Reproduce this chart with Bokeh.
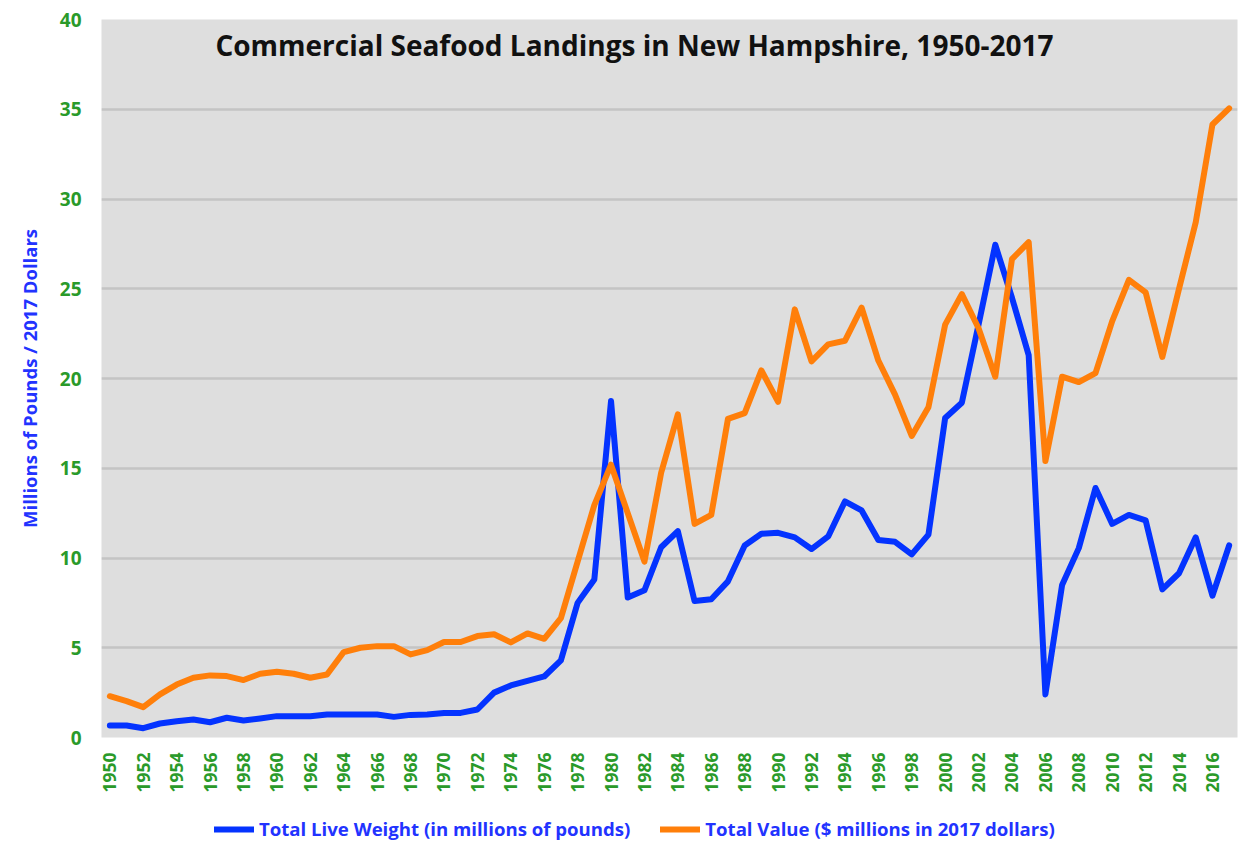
import math
from bokeh.plotting import figure
from bokeh.layouts import column
from bokeh.models import Range1d, FixedTicker, Label, Legend, LegendItem
from bokeh.embed import file_html
from bokeh.resources import INLINE

years = list(range(1950, 2018))

live_weight = [
    0.67, 0.67, 0.52, 0.78, 0.91, 1.00, 0.85, 1.10, 0.95, 1.06,
    1.19, 1.19, 1.19, 1.28, 1.28, 1.28, 1.28, 1.15, 1.26, 1.28,
    1.37, 1.37, 1.56, 2.50, 2.90, 3.16, 3.40, 4.30, 7.50, 8.80,
    18.75, 7.80, 8.20, 10.60, 11.50, 7.60, 7.70, 8.70, 10.70, 11.35,
    11.40, 11.15, 10.50, 11.20, 13.15, 12.65, 11.00, 10.90, 10.20, 11.30,
    17.80, 18.65, 23.00, 27.45, 24.50, 21.30, 2.40, 8.50, 10.55, 13.90,
    11.90, 12.40, 12.10, 8.25, 9.15, 11.15, 7.90, 10.70,
]

total_value = [
    2.30, 2.03, 1.69, 2.40, 2.95, 3.33, 3.46, 3.42, 3.20, 3.55,
    3.66, 3.55, 3.33, 3.51, 4.76, 5.00, 5.09, 5.09, 4.63, 4.87,
    5.32, 5.32, 5.65, 5.75, 5.30, 5.80, 5.50, 6.65, 9.80, 12.95,
    15.20, 12.50, 9.80, 14.75, 18.00, 11.90, 12.40, 17.75, 18.07, 20.45,
    18.70, 23.85, 20.95, 21.90, 22.10, 23.95, 21.00, 19.10, 16.80, 18.40,
    23.00, 24.70, 22.80, 20.10, 26.65, 27.60, 15.40, 20.10, 19.80, 20.30,
    23.20, 25.50, 24.80, 21.20, 25.00, 28.70, 34.15, 35.05,
]

x_ticks = list(range(1950, 2018, 2))
y_ticks = [0, 5, 10, 15, 20, 25, 30, 35, 40]

title_text = "Commercial Seafood Landings in New Hampshire, 1950-2017"
y_label = "Millions of Pounds / 2017 Dollars"
label_weight = "Total Live Weight (in millions of pounds)"
label_value = "Total Value ($ millions in 2017 dollars)"

BLUE = "#0433FF"
ORANGE = "#FF7F0A"
GREEN = "#2A9A2A"
LABEL_BLUE = "#2233FF"
FONT = "Open Sans"

p = figure(
    width=1240, height=807,
    x_range=Range1d(1949.5, 2017.5), y_range=Range1d(0, 40),
    output_backend="svg", toolbar_location=None,
    min_border_left=101, min_border_right=3, min_border_top=19, min_border_bottom=70,
)
p.background_fill_color = "#DEDEDE"
p.border_fill_color = "white"
p.outline_line_color = None

p.xgrid.grid_line_color = None
p.ygrid.grid_line_color = "#C4C4C4"
p.ygrid.grid_line_width = 2.5

# x axis
p.xaxis.ticker = FixedTicker(ticks=x_ticks)
p.xaxis.major_label_orientation = math.pi / 2
p.xaxis.major_label_text_color = GREEN
p.xaxis.major_label_text_font = FONT
p.xaxis.major_label_text_font_style = "bold"
p.xaxis.major_label_text_font_size = "17.5px"
p.xaxis.major_label_standoff = 15
p.xaxis.major_tick_out = 0
p.xaxis.major_tick_in = 0
p.xaxis.axis_line_color = None
p.xaxis.major_tick_line_color = None
p.xaxis.minor_tick_line_color = None

# y axis
p.yaxis.ticker = FixedTicker(ticks=y_ticks)
p.yaxis.major_label_text_color = GREEN
p.yaxis.major_label_text_font = FONT
p.yaxis.major_label_text_font_style = "bold"
p.yaxis.major_label_text_font_size = "19px"
p.yaxis.major_label_standoff = 20
p.yaxis.major_tick_out = 0
p.yaxis.major_tick_in = 0
p.yaxis.axis_line_color = None
p.yaxis.major_tick_line_color = None
p.yaxis.minor_tick_line_color = None
p.yaxis.axis_label = y_label
p.yaxis.axis_label_text_color = LABEL_BLUE
p.yaxis.axis_label_text_font = FONT
p.yaxis.axis_label_text_font_style = "bold"
p.yaxis.axis_label_text_font_size = "18.5px"
p.yaxis.axis_label_standoff = 15

p.line(years, live_weight, line_color=BLUE, line_width=6, line_join="round", line_cap="round")
p.line(years, total_value, line_color=ORANGE, line_width=6, line_join="round", line_cap="round")

title = Label(
    x=1981.4, y=38.6, text=title_text, text_align="center", text_baseline="middle",
    text_font=FONT, text_font_size="28px", text_font_style="bold", text_color="#111111",
)
p.add_layout(title)

# legend strip below the chart (series drawn out of view; only legend swatches show)
lg = figure(
    width=1240, height=42, x_range=Range1d(0, 1), y_range=Range1d(0, 1),
    output_backend="svg", toolbar_location=None, x_axis_type=None, y_axis_type=None,
    min_border_left=0, min_border_right=0, min_border_top=0, min_border_bottom=0,
)
lg.outline_line_color = None
lg.grid.visible = False
lg.background_fill_color = "white"
lg.border_fill_color = "white"
lw = lg.line(years, live_weight, line_color=BLUE, line_width=6, line_cap="round")
lv = lg.line(years, total_value, line_color=ORANGE, line_width=6, line_cap="round")

legend = Legend(
    items=[LegendItem(label=label_weight, renderers=[lw]),
           LegendItem(label=label_value, renderers=[lv])],
    orientation="horizontal", location=(113, 8),
    label_text_color=LABEL_BLUE, label_text_font=FONT, label_text_font_style="bold",
    label_text_font_size="18.6px", glyph_width=40, label_standoff=5, spacing=30,
    border_line_color=None, background_fill_alpha=0, padding=5, margin=0,
)
lg.add_layout(legend)

layout = column(p, lg, spacing=0)
open("out.html", "w").write(file_html(layout, INLINE))
